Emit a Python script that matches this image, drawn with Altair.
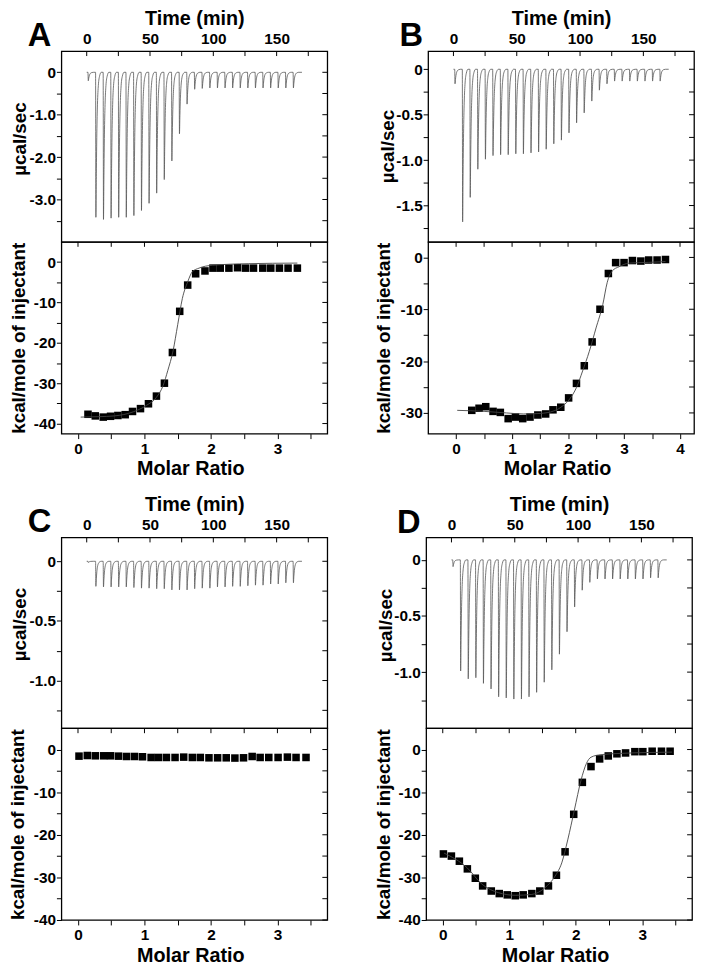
import altair as alt
import pandas as pd

FONT = "Liberation Sans"
W, HT, HB = 269, 193, 194
SH = 45
SV = 14

# ---------------- raw thermogram (top panels) ----------------
TIMES = [1, 7, 13, 19, 25, 31, 37, 43, 49, 55, 61, 67, 73, 79, 85, 91, 97, 103,
         109, 115, 121, 127, 133, 139, 145, 151, 157, 163]
TIME_END = 170
# injection peak shape: time offsets (min) and fraction of the peak height
OFFS = [0.0, 0.25, 0.6, 1.0, 1.5, 2.2, 3.2, 4.5]
FRAC = [0.0, 1.0, 0.7, 0.42, 0.22, 0.09, 0.025, 0.0]

TIME_LABELS = [0, 50, 100, 150]
TIME_TICKS = [0, 25, 50, 75, 100, 125, 150, 175]

A_PEAKS = [-0.20, -3.42, -3.47, -3.44, -3.42, -3.42, -3.38, -3.26, -3.09, -2.85,
           -2.53, -2.09, -1.45, -0.75, -0.40, -0.38, -0.37, -0.37, -0.37, -0.37,
           -0.37, -0.37, -0.37, -0.37, -0.37, -0.37, -0.37, -0.37]
B_PEAKS = [-0.16, -1.68, -1.41, -1.10, -0.99, -0.95, -0.94, -0.94, -0.93, -0.93,
           -0.92, -0.91, -0.88, -0.82, -0.78, -0.70, -0.59, -0.48, -0.35, -0.23,
           -0.16, -0.13, -0.13, -0.13, -0.13, -0.13, -0.13, -0.13]
C_PEAKS = [-0.01, -0.21, -0.215, -0.215, -0.215, -0.215, -0.22, -0.225, -0.225, -0.23,
           -0.23, -0.24, -0.24, -0.24, -0.23, -0.225, -0.225, -0.215, -0.215, -0.21,
           -0.21, -0.205, -0.20, -0.20, -0.19, -0.19, -0.18, -0.18]
D_PEAKS = [-0.06, -0.99, -1.06, -1.05, -1.10, -1.15, -1.22, -1.23, -1.24, -1.24,
           -1.22, -1.18, -1.09, -0.98, -0.84, -0.64, -0.42, -0.27, -0.20, -0.17,
           -0.17, -0.17, -0.17, -0.17, -0.17, -0.17, -0.16, -0.16]

# ---------------- integrated heats (bottom panels) ----------------
A_MR = [0.15, 0.26, 0.38, 0.49, 0.60, 0.71, 0.82, 0.94, 1.06, 1.18, 1.30, 1.42, 1.53,
        1.65, 1.77, 1.91, 2.03, 2.14, 2.27, 2.40, 2.52, 2.64, 2.78, 2.90, 3.03, 3.16, 3.30]
A_DH = [-37.7, -38.1, -38.4, -38.2, -38.0, -37.8, -37.0, -36.3, -35.1, -33.2, -30.0, -22.4,
        -12.2, -5.7, -2.9, -2.2, -1.5, -1.5, -1.5, -1.4, -1.5, -1.5, -1.5, -1.5, -1.5, -1.5, -1.5]
A_FIT_MR = [0.04, 0.30, 0.55, 0.83, 1.03, 1.18, 1.28, 1.35, 1.43, 1.50, 1.57, 1.65, 1.72,
            1.82, 2.02, 2.56, 3.30]
A_FIT_DH = [-38.4, -38.3, -38.1, -37.1, -35.5, -33.5, -30.6, -26.9, -22.0, -15.5, -9.0,
            -4.9, -2.4, -1.5, -0.8, -0.4, -0.25]

B_MR = [0.28, 0.41, 0.53, 0.66, 0.79, 0.93, 1.06, 1.19, 1.32, 1.46, 1.60, 1.73, 1.87,
        2.01, 2.15, 2.29, 2.43, 2.57, 2.72, 2.85, 3.00, 3.15, 3.30, 3.44, 3.59, 3.74]
B_DH = [-29.5, -29.1, -28.8, -29.7, -29.9, -31.1, -30.8, -31.1, -30.8, -30.4, -30.2, -29.4,
        -28.9, -27.1, -24.3, -20.9, -16.3, -10.0, -3.1, -1.0, -1.0, -0.6, -0.7, -0.5, -0.5, -0.4]
B_FIT_MR = [0.02, 0.50, 0.90, 1.20, 1.50, 1.75, 1.91, 2.03, 2.15, 2.26, 2.38, 2.50, 2.62,
            2.70, 2.79, 2.91, 3.09, 3.44, 3.74]
B_FIT_DH = [-29.5, -29.7, -30.0, -30.2, -30.1, -29.6, -28.6, -27.3, -25.1, -21.9, -18.1,
            -13.6, -9.1, -4.8, -2.6, -1.8, -1.1, -0.95, -0.8]

C_MR = [0.015, 0.14, 0.26, 0.385, 0.49, 0.61, 0.73, 0.85, 0.97, 1.10, 1.21, 1.33, 1.46,
        1.59, 1.72, 1.84, 1.97, 2.10, 2.23, 2.36, 2.49, 2.62, 2.74, 2.87, 3.01, 3.15, 3.28, 3.43]
C_DH = [-1.55, -1.40, -1.47, -1.47, -1.47, -1.55, -1.63, -1.63, -1.70, -1.86, -1.86, -1.86,
        -1.86, -1.78, -1.86, -1.86, -1.94, -1.94, -1.94, -2.00, -1.94, -1.63, -1.86, -1.86,
        -1.86, -1.78, -1.86, -1.86]
C_FIT_MR = []
C_FIT_DH = []

D_MR = [0.01, 0.13, 0.25, 0.37, 0.49, 0.60, 0.73, 0.85, 0.97, 1.09, 1.21, 1.34, 1.46, 1.59,
        1.71, 1.84, 1.97, 2.10, 2.23, 2.36, 2.49, 2.62, 2.75, 2.89, 3.01, 3.15, 3.29, 3.42]
D_DH = [-24.5, -25.0, -26.2, -28.0, -30.2, -32.0, -33.2, -33.8, -34.1, -34.3, -34.1, -33.8,
        -33.2, -32.0, -29.5, -24.0, -15.2, -7.7, -4.0, -2.2, -1.5, -1.0, -0.8, -0.5, -0.5,
        -0.4, -0.4, -0.4]
D_FIT_MR = [0.02, 0.37, 0.59, 0.84, 1.09, 1.34, 1.54, 1.69, 1.79, 1.88, 1.98, 2.08, 2.16,
            2.23, 2.38, 2.68, 3.07, 3.45]
D_FIT_DH = [-24.3, -27.8, -31.6, -33.6, -34.2, -34.0, -32.4, -29.7, -26.6, -21.2, -14.2,
            -7.2, -3.3, -1.8, -1.2, -0.9, -0.7, -0.6]

PANELS = [
    dict(letter="A", lx=-34, ly=-5, peaks=A_PEAKS, tdom=[-4.0, 0.5],
         tvals=[0, -0.5, -1.0, -1.5, -2.0, -2.5, -3.0, -3.5], tlabels=[0, -1.0, -2.0, -3.0],
         tty=88.5, ttx=-36,
         mr=A_MR, dh=A_DH, fmr=A_FIT_MR, fdh=A_FIT_DH, xdom=[-0.25, 3.75],
         xvals=[0, 0.5, 1, 1.5, 2, 2.5, 3, 3.5], xlabels=[0, 1, 2, 3],
         bdom=[-42.5, 5], bvals=[0, -5, -10, -15, -20, -25, -30, -35, -40],
         blabels=[0, -10, -20, -30, -40], btx=-37.7),
    dict(letter="B", lx=-29, ly=-5, peaks=B_PEAKS, tdom=[-1.9, 0.2],
         tvals=[0, -0.25, -0.5, -0.75, -1.0, -1.25, -1.5, -1.75], tlabels=[0, -0.5, -1.0, -1.5],
         tty=96, ttx=-35.3,
         mr=B_MR, dh=B_DH, fmr=B_FIT_MR, fdh=B_FIT_DH, xdom=[-0.5, 4.25],
         xvals=[0, 0.5, 1, 1.5, 2, 2.5, 3, 3.5, 4], xlabels=[0, 1, 2, 3, 4],
         bdom=[-34, 3], bvals=[0, -5, -10, -15, -20, -25, -30],
         blabels=[0, -10, -20, -30], btx=-39),
    dict(letter="C", lx=-34, ly=-6, peaks=C_PEAKS, tdom=[-1.4, 0.2],
         tvals=[0, -0.25, -0.5, -0.75, -1.0, -1.25], tlabels=[0, -0.5, -1.0],
         tty=87.7, ttx=-36,
         mr=C_MR, dh=C_DH, fmr=C_FIT_MR, fdh=C_FIT_DH, xdom=[-0.25, 3.75],
         xvals=[0, 0.5, 1, 1.5, 2, 2.5, 3, 3.5], xlabels=[0, 1, 2, 3],
         bdom=[-40, 5], bvals=[0, -5, -10, -15, -20, -25, -30, -35, -40],
         blabels=[0, -10, -20, -30, -40], btx=-38),
    dict(letter="D", lx=-29.5, ly=-5, peaks=D_PEAKS, tdom=[-1.5, 0.2],
         tvals=[0, -0.25, -0.5, -0.75, -1.0, -1.25], tlabels=[0, -0.5, -1.0],
         tty=88.5, ttx=-35,
         mr=D_MR, dh=D_DH, fmr=D_FIT_MR, fdh=D_FIT_DH, xdom=[-0.25, 3.75],
         xvals=[0, 0.5, 1, 1.5, 2, 2.5, 3, 3.5], xlabels=[0, 1, 2, 3],
         bdom=[-40, 5], bvals=[0, -5, -10, -15, -20, -25, -30, -35, -40],
         blabels=[0, -10, -20, -30, -40], btx=-37),
]


def trace_df(peaks):
    t, v = [0.0], [0.0]
    for t0, p in zip(TIMES, peaks):
        for o, f in zip(OFFS, FRAC):
            t.append(t0 + o)
            v.append(p * f)
    t.append(TIME_END)
    v.append(0.0)
    return pd.DataFrame({"t": t, "v": v})


def neg_expr(labels, fmt):
    return ("indexof(%s, datum.value) < 0 ? '' : (datum.value == 0 ? '0' : '-' + format(-datum.value, '%s'))"
            % (str(labels), fmt))


def pos_expr(labels):
    return "indexof(%s, datum.value) < 0 ? '' : format(datum.value, 'd')" % str(labels)


def rule(**kw):
    return dict(color="black", strokeWidth=1, **kw)


def top_chart(p):
    xs = alt.Scale(domain=[-20, 190], nice=False, zero=False)
    ys = alt.Scale(domain=p["tdom"], nice=False, zero=False)
    xaxis = alt.Axis(orient="top", values=TIME_LABELS, ticks=False, tickSize=0,
                     labelPadding=7.7, labelBaseline="alphabetic", format="d",
                     title="Time (min)", titleY=-27, titleBaseline="alphabetic",
                     titleFontSize=20)
    yaxis = alt.Axis(values=p["tvals"], labelExpr=neg_expr(p["tlabels"], ".1f"),
                     tickSize=5, labelPadding=1, title="µcal/sec",
                     titleX=p["ttx"], titleY=p["tty"], titleBaseline="alphabetic")
    line = alt.Chart(trace_df(p["peaks"])).mark_line(
        color="#555555", strokeWidth=0.8, interpolate="monotone"
    ).encode(x=alt.X("t:Q", scale=xs, axis=xaxis), y=alt.Y("v:Q", scale=ys, axis=yaxis))
    tt = alt.Chart(pd.DataFrame({"t": TIME_TICKS})).mark_rule(**rule()).encode(
        x=alt.X("t:Q", scale=xs, axis=xaxis), y=alt.value(0), y2=alt.value(5))
    rt = alt.Chart(pd.DataFrame({"v": p["tvals"]})).mark_rule(**rule()).encode(
        y=alt.Y("v:Q", scale=ys, axis=yaxis), x=alt.value(W), x2=alt.value(W - 5))
    letter = alt.Chart(pd.DataFrame({"s": [p["letter"]]})).mark_text(
        font=FONT, fontSize=33, fontWeight="bold", align="left", baseline="alphabetic",
        color="black"
    ).encode(x=alt.value(p["lx"]), y=alt.value(p["ly"]), text="s:N")
    return alt.layer(line, tt, rt, letter).properties(width=W, height=HT)


def bottom_chart(p):
    xs = alt.Scale(domain=p["xdom"], nice=False, zero=False)
    ys = alt.Scale(domain=p["bdom"], nice=False, zero=False)
    xaxis = alt.Axis(orient="bottom", values=p["xvals"], labelExpr=pos_expr(p["xlabels"]),
                     tickSize=5, labelPadding=14.7, labelBaseline="alphabetic",
                     title="Molar Ratio", titleY=41.5, titleX=W / 2 - 4,
                     titleBaseline="alphabetic", titleFontSize=20)
    yaxis = alt.Axis(values=p["bvals"], labelExpr=neg_expr(p["blabels"], "d"),
                     tickSize=5, labelPadding=1, title="kcal/mole of injectant",
                     titleX=p["btx"], titleY=HB / 2, titleBaseline="alphabetic")
    pts = alt.Chart(pd.DataFrame({"x": p["mr"], "y": p["dh"]})).mark_square(
        size=58, color="black", opacity=1
    ).encode(x=alt.X("x:Q", scale=xs, axis=xaxis), y=alt.Y("y:Q", scale=ys, axis=yaxis))
    layers = [pts]
    if p["fmr"]:
        fit = alt.Chart(pd.DataFrame({"x": p["fmr"], "y": p["fdh"]})).mark_line(
            color="#444444", strokeWidth=0.9, interpolate="monotone"
        ).encode(x=alt.X("x:Q", scale=xs, axis=xaxis), y=alt.Y("y:Q", scale=ys, axis=yaxis))
        layers.append(fit)
    tt = alt.Chart(pd.DataFrame({"x": p["xvals"]})).mark_rule(**rule()).encode(
        x=alt.X("x:Q", scale=xs, axis=xaxis), y=alt.value(0), y2=alt.value(5))
    rt = alt.Chart(pd.DataFrame({"y": p["bvals"]})).mark_rule(**rule()).encode(
        y=alt.Y("y:Q", scale=ys, axis=yaxis), x=alt.value(W), x2=alt.value(W - 5))
    layers += [tt, rt]
    return alt.layer(*layers).properties(width=W, height=HB)


def panel(p):
    return alt.vconcat(top_chart(p), bottom_chart(p), spacing=0, bounds="flush")


row1 = alt.hconcat(panel(PANELS[0]), panel(PANELS[1]), spacing=SH)
row2 = alt.hconcat(panel(PANELS[2]), panel(PANELS[3]), spacing=SH)

chart = alt.vconcat(row1, row2, spacing=SV).properties(
    padding={"left": 0, "top": -6, "right": 0, "bottom": 0}
).configure_axis(
    labelFont=FONT, titleFont=FONT, labelFontSize=15.5, titleFontSize=19,
    labelFontWeight="bold", titleFontWeight="bold", labelColor="black",
    titleColor="black", tickColor="black", tickWidth=1, domain=False, grid=False
).configure_view(stroke="black", strokeWidth=1.3)

chart.save("out.html", embed_options={"renderer": "svg", "actions": False})
